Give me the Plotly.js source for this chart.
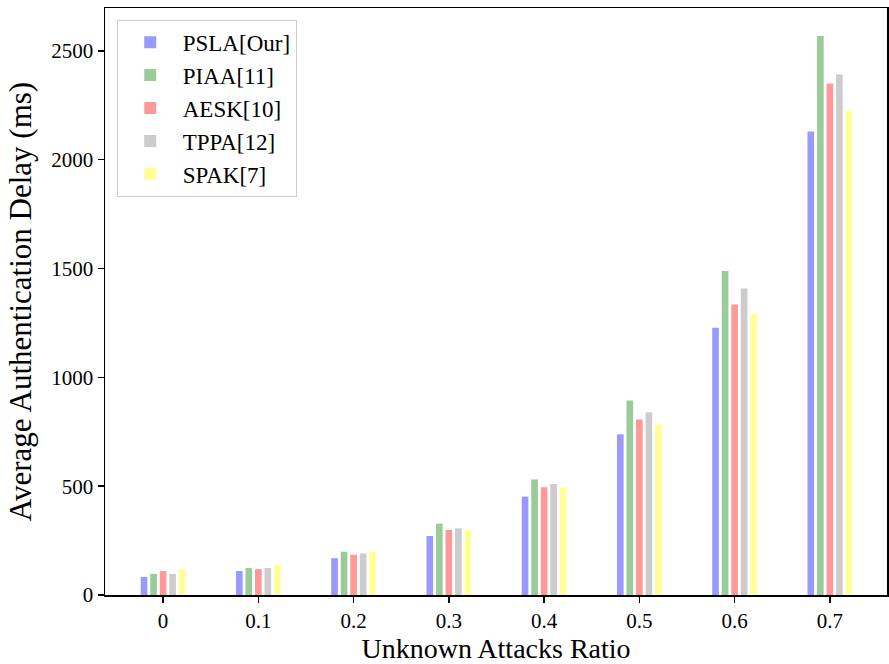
<!DOCTYPE html>
<html>
<head>
<meta charset="utf-8">
<script src="https://cdn.plot.ly/plotly-3.0.1.min.js"></script>
<style>html,body{margin:0;padding:0;background:#fff;}#chart{width:889px;height:664px;}</style>
</head>
<body>
<div id="chart"></div>
<script>
const ratios = ["0", "0.1", "0.2", "0.3", "0.4", "0.5", "0.6", "0.7"];
const seriesNames = ["PSLA[Our]", "PIAA[11]", "AESK[10]", "TPPA[12]", "SPAK[7]"];
const psla = [83, 110, 169, 271, 452, 738, 1228, 2130];
const piaa = [97, 124, 199, 328, 531, 894, 1489, 2568];
const aesk = [110, 119, 185, 299, 495, 806, 1335, 2350];
const tppa = [97, 124, 191, 306, 510, 840, 1408, 2391];
const spak = [119, 139, 199, 299, 495, 783, 1290, 2225];
const colors = ["#9999ff", "#99cc99", "#ff9999", "#cccccc", "#ffff99"];

const values = [psla, piaa, aesk, tppa, spak];
const xs = ratios.map((_, i) => i);
const traces = values.map((v, k) => ({
  type: "bar",
  name: seriesNames[k],
  x: xs,
  y: v,
  marker: {color: colors[k], line: {width: 0}},
  hoverinfo: "x+y+name"
}));

const font = "'Liberation Serif', 'Times New Roman', serif";
const layout = {
  width: 889, height: 664,
  margin: {l: 105, r: 2, t: 8, b: 69},
  paper_bgcolor: "#fff", plot_bgcolor: "#fff",
  barmode: "group", bargap: 0.5, bargroupgap: 0.3,
  font: {family: font, color: "#000", size: 20},
  showlegend: true,
  legend: {
    x: 0.015, y: 0.98, xanchor: "left", yanchor: "top",
    bgcolor: "rgba(255,255,255,0.8)", bordercolor: "#cccccc", borderwidth: 1,
    font: {family: font, size: 23, color: "#000"},
    itemwidth: 55, tracegroupgap: 0
  },
  xaxis: {
    range: [-0.61, 7.6],
    tickmode: "array", tickvals: xs, ticktext: ratios,
    ticks: "outside", ticklen: 6, tickwidth: 1.5, tickcolor: "#000",
    showline: true, linecolor: "#000", linewidth: 1.5, mirror: true,
    showgrid: false, zeroline: false,
    tickfont: {family: font, size: 21},
    title: {text: "Unknown Attacks Ratio", font: {family: font, size: 28}, standoff: 12}
  },
  yaxis: {
    range: [0, 2697],
    tickmode: "array", tickvals: [0, 500, 1000, 1500, 2000, 2500],
    ticks: "outside", ticklen: 6, tickwidth: 1.5, tickcolor: "#000",
    showline: true, linecolor: "#000", linewidth: 1.5, mirror: true,
    showgrid: false, zeroline: false,
    tickfont: {family: font, size: 21},
    title: {text: "Average Authentication Delay (ms)", font: {family: font, size: 31}, standoff: 10}
  }
};
Plotly.newPlot("chart", traces, layout, {displayModeBar: false, staticPlot: true});
</script>
</body>
</html>
